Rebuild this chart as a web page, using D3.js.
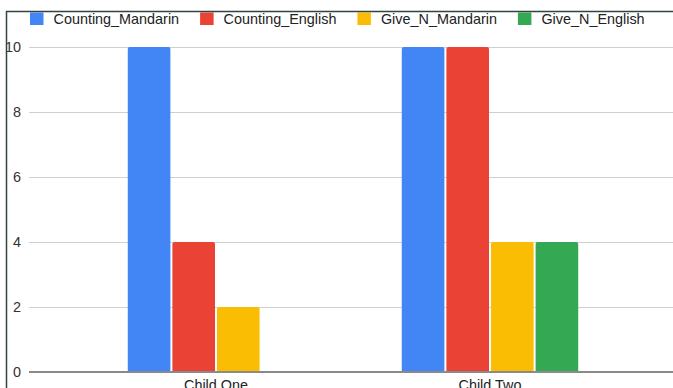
<!DOCTYPE html>
<html>
<head>
<meta charset="utf-8">
<script src="https://cdn.jsdelivr.net/npm/d3@7"></script>
<style>
    body { margin: 0; background: #fff; }
    svg { display: block; font-family: "Liberation Sans", Arial, sans-serif; }
</style>
</head>
<body>
<div id="chart"></div>
<script>
const categories = ['Child One', 'Child Two'];
const seriesNames = ['Counting_Mandarin', 'Counting_English', 'Give_N_Mandarin', 'Give_N_English'];
const countingMandarin = [10, 10];
const countingEnglish = [4, 10];
const giveNMandarin = [2, 4];
const giveNEnglish = [0, 4];
const yTicks = [0, 2, 4, 6, 8, 10];

const colors = ['#4285f4', '#ea4335', '#fbbc04', '#34a853'];

const width = 673;
const height = 388;

const svg = d3.select('#chart').append('svg')
    .attr('width', width)
    .attr('height', height);

const values = [countingMandarin, countingEnglish, giveNMandarin, giveNEnglish];
const data = categories.map((c, i) => ({
    name: c,
    vals: seriesNames.map((s, j) => ({ key: s, value: values[j][i], colour: colors[j] }))
}));

// plot area
const gridLeft = 29;
const y = d3.scaleLinear()
    .domain([0, 10])
    .range([372, 47]);

const x0 = d3.scaleBand()
    .domain(categories)
    .range([79, 627])
    .paddingInner(0.356)
    .paddingOuter(0.178);

const x1 = d3.scaleBand()
    .domain(seriesNames)
    .range([0, x0.bandwidth()])
    .paddingInner(0.045);

// gridlines
svg.append('g')
    .selectAll('line')
    .data(yTicks.filter(d => d != 0))
    .enter()
    .append('line')
    .attr('x1', gridLeft)
    .attr('x2', width)
    .attr('y1', d => y(d) + 0.5)
    .attr('y2', d => y(d) + 0.5)
    .style('stroke', '#d0d0d0')
    .style('stroke-width', 1);

// y labels
svg.append('g')
    .selectAll('text')
    .data(yTicks)
    .enter()
    .append('text')
    .attr('x', 21)
    .attr('y', d => y(d))
    .attr('dy', '0.36em')
    .style('text-anchor', 'end')
    .style('font-size', '14.4px')
    .style('fill', '#333')
    .text(d => d);

// bars (slightly rounded top corners)
const topRounded = (bx, by, bw, bh, r) => {
    r = Math.min(r, bh, bw / 2);
    return `M${bx},${by + bh}V${by + r}Q${bx},${by} ${bx + r},${by}` +
        `H${bx + bw - r}Q${bx + bw},${by} ${bx + bw},${by + r}V${by + bh}Z`;
};

svg.append('g')
    .selectAll('g')
    .data(data)
    .enter()
    .append('g')
    .attr('transform', d => `translate(${x0(d.name)},0)`)
    .selectAll('path')
    .data(d => d.vals.filter(v => v.value > 0))
    .enter()
    .append('path')
    .attr('d', d => topRounded(x1(d.key), y(d.value), x1.bandwidth(), y(0) - y(d.value), 2))
    .style('fill', d => d.colour);

// x axis baseline
svg.append('line')
    .attr('x1', gridLeft)
    .attr('x2', width)
    .attr('y1', y(0))
    .attr('y2', y(0))
    .style('stroke', '#8a8a8a')
    .style('stroke-width', 2);

// category labels
svg.append('g')
    .selectAll('text')
    .data(categories)
    .enter()
    .append('text')
    .attr('x', d => x0(d) + x0.bandwidth() / 2)
    .attr('y', 390)
    .style('text-anchor', 'middle')
    .style('font-size', '14.4px')
    .style('fill', '#222')
    .text(d => d);

// legend
const legend = svg.append('g').attr('class', 'legend');
let lx = 30;
seriesNames.forEach((s, i) => {
    legend.append('rect')
        .attr('x', lx)
        .attr('y', 12.5)
        .attr('width', 13.5)
        .attr('height', 12.5)
        .style('fill', colors[i]);
    const t = legend.append('text')
        .attr('x', lx + 23.5)
        .attr('y', 18.5)
        .attr('dy', '0.36em')
        .style('font-size', '14.4px')
        .style('fill', '#222')
        .text(s);
    lx += 23.5 + t.node().getComputedTextLength() + 21;
});

// frame of the cropped screenshot
svg.append('path')
    .attr('d', `M6.5,${height}V11.5H${width}`)
    .style('fill', 'none')
    .style('stroke', '#33443d')
    .style('stroke-width', 1.5);
</script>
</body>
</html>
